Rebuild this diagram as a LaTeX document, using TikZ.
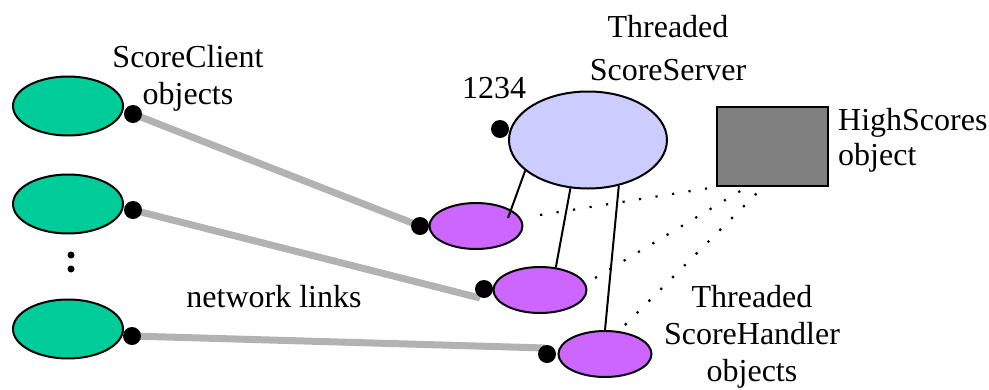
\documentclass[tikz,border=0pt]{standalone}
\usepackage{fontspec}
\setmainfont{Liberation Serif}
\usetikzlibrary{shapes.geometric,calc}
\definecolor{clientgreen}{HTML}{00CC99}
\definecolor{serverblue}{HTML}{CCCCFF}
\definecolor{handlerpurple}{HTML}{CC66FF}
\definecolor{storegray}{HTML}{808080}
\definecolor{linkgray}{HTML}{B2B2B2}
\tikzset{
  obj/.style={ellipse, draw=black, line width=2pt, inner sep=0pt},
  client/.style={obj, fill=clientgreen, minimum width=110pt, minimum height=59pt},
  handler/.style={obj, fill=handlerpurple, minimum width=93pt, minimum height=46pt},
  server/.style={obj, fill=serverblue, minimum width=158pt, minimum height=97pt},
  store/.style={rectangle, draw=black, line width=2pt, fill=storegray, inner sep=0pt,
    minimum width=111pt, minimum height=79pt},
  socket/.style={circle, fill=black, inner sep=0pt, minimum size=18pt},
  netlink/.style={linkgray, line width=7pt},
  owns/.style={black, line width=2pt},
  uses/.style={black, line width=2.2pt, dash pattern=on 2.2pt off 14.5pt},
  label/.style={font=\fontsize{32}{37}\selectfont, inner sep=0pt, align=center},
}
\begin{document}
\begin{tikzpicture}[x=1pt, y=-1pt]
\useasboundingbox (0,0) rectangle (989,389);

% client objects
\node[client] (c1) at (68,106) {};
\node[client] (c2) at (68,204) {};
\node[client] (c3) at (68,329) {};
\fill (71,255) circle (3.5pt) (71,269) circle (3.5pt);

% server, handlers and the shared score store
\node[server] (srv) at (588,140) {};
\node[handler] (h1) at (476,226) {};
\node[handler] (h2) at (540,290) {};
\node[handler] (h3) at (605,354) {};
\node[store] (hs) at (772.5,146.5) {};

% socket positions
\coordinate (s1) at (133,114);
\coordinate (s2) at (133,210);
\coordinate (s3) at (132,336);
\coordinate (t1) at (420,226);
\coordinate (t2) at (484,289);
\coordinate (t3) at (547,354);

% network links between client and handler sockets
\draw[netlink] (s1) -- (t1);
\draw[netlink] (s2) -- ($(t2)+(-4,9)$);
\draw[netlink] (s3) -- ($(t3)+(-2,-6)$);

% sockets drawn over the link ends
\node[socket] (ks1) at (s1) {};
\node[socket] (ks2) at (s2) {};
\node[socket] (ks3) at (s3) {};
\node[socket] (kt1) at (t1) {};
\node[socket] (kt2) at (t2) {};
\node[socket] (kt3) at (t3) {};
\node[socket] (port) at (500,129) {};

% server spawns handlers
\draw[owns] (srv.206.6) -- ($(h1.center)+(32,-8)$);
\draw[owns] (srv.250.8) -- (h2.55);
\draw[owns] (srv.304.2) -- (h3.north);

% handlers use the score store
\draw[uses] ($(h1.center)+(64,-11)$) -- (hs.south west);
\draw[uses] ($(h2.center)+(55,-12)$) -- ($(hs.south west)+(31,0)$);
\draw[uses] ($(h3.center)+(20,-29)$) -- ($(hs.south west)+(47,0)$);

% labels
\node[label, anchor=north] (lclient) at (188,45) {ScoreClient\\objects};
\node[label, anchor=north] (lserver) at (668,15) {Threaded\\[6pt]ScoreServer};
\node[label, anchor=north] (lport) at (494,77) {1234};
\node[label, anchor=north west, align=left] (lstore) at (838,108)
  {HighScores\\[-2pt]object};
\node[label, anchor=north] (lnet) at (274,285) {network links};
\node[label, anchor=north] (lhandler) at (752,285) {Threaded\\ScoreHandler\\objects};
\end{tikzpicture}
\end{document}
